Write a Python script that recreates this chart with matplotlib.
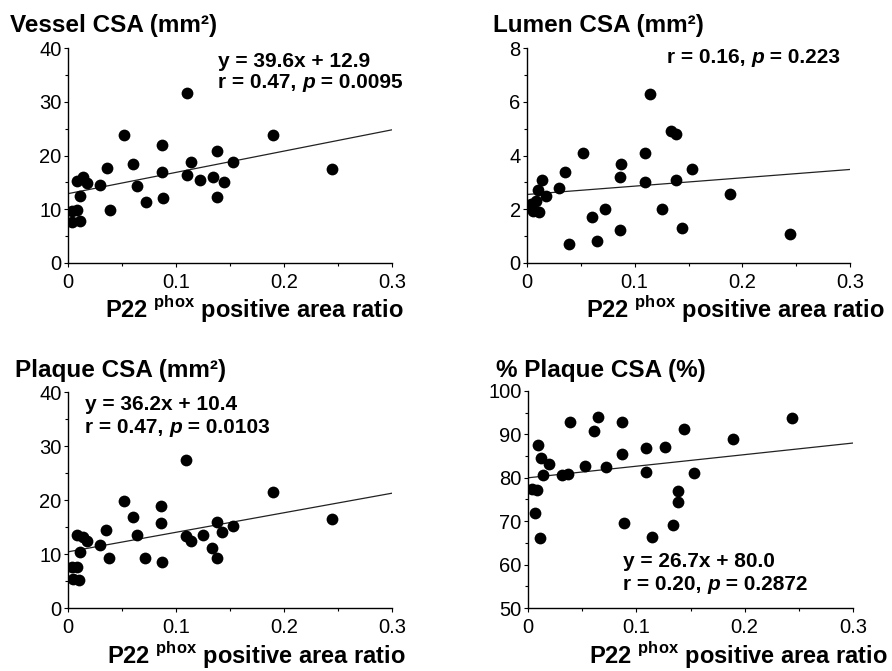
import numpy as np
import matplotlib
matplotlib.use('Agg')
import matplotlib.pyplot as plt
from matplotlib.ticker import MultipleLocator

# fonts: bold sans for titles / labels, narrow for ticks and stats
plt.rcParams['font.family'] = 'Liberation Sans'
plt.rcParams['mathtext.fontset'] = 'custom'
plt.rcParams['mathtext.rm'] = 'Liberation Sans:bold'
plt.rcParams['mathtext.bf'] = 'Liberation Sans:bold'
NARROW = ['Liberation Sans Narrow', 'Liberation Sans']

# ---- data ----
# Vessel CSA (mm2)
vessel_x = [0.004, 0.004, 0.008, 0.011, 0.011, 0.008, 0.014, 0.018, 0.030, 0.036,
            0.039, 0.052, 0.060, 0.064, 0.072, 0.087, 0.087, 0.088, 0.110, 0.110,
            0.114, 0.122, 0.134, 0.138, 0.138, 0.144, 0.153, 0.190, 0.244]
vessel_y = [7.6, 9.6, 9.8, 7.8, 12.4, 15.2, 16.0, 14.9, 14.5, 17.6,
            9.9, 23.9, 18.4, 14.3, 11.4, 22.0, 17.0, 12.1, 31.7, 16.3,
            18.8, 15.5, 16.0, 20.8, 12.2, 15.1, 18.8, 23.9, 17.4]

# Lumen CSA (mm2)
lumen_x = [0.004, 0.008, 0.006, 0.011, 0.010, 0.014, 0.018, 0.030, 0.035, 0.039,
           0.052, 0.060, 0.065, 0.072, 0.086, 0.087, 0.086, 0.110, 0.110, 0.114,
           0.125, 0.134, 0.138, 0.138, 0.144, 0.153, 0.189, 0.244, 0.003]
lumen_y = [2.2, 2.3, 1.95, 1.9, 2.7, 3.1, 2.5, 2.8, 3.4, 0.7,
           4.08, 1.7, 0.83, 2.0, 3.19, 3.7, 1.21, 4.08, 3.0, 6.27,
           2.0, 4.9, 4.8, 3.09, 1.29, 3.49, 2.57, 1.08, 2.1]

# Plaque CSA (mm2)
plaque_x = [0.004, 0.008, 0.005, 0.010, 0.008, 0.014, 0.018, 0.011, 0.030, 0.035,
            0.038, 0.052, 0.060, 0.064, 0.071, 0.086, 0.086, 0.087, 0.109, 0.109,
            0.114, 0.125, 0.133, 0.138, 0.138, 0.143, 0.153, 0.190, 0.244]
plaque_y = [7.6, 7.6, 5.4, 5.1, 13.5, 13.1, 12.5, 10.4, 11.7, 14.4,
            9.3, 19.9, 16.9, 13.6, 9.3, 18.9, 15.8, 8.5, 27.5, 13.3,
            12.4, 13.5, 11.1, 9.3, 16.0, 14.0, 15.2, 21.5, 16.5]

# % Plaque CSA (%)
pct_x = [0.004, 0.008, 0.006, 0.009, 0.011, 0.012, 0.014, 0.019, 0.031, 0.037,
         0.039, 0.053, 0.061, 0.065, 0.072, 0.087, 0.087, 0.089, 0.109, 0.109,
         0.114, 0.126, 0.134, 0.138, 0.138, 0.144, 0.153, 0.189, 0.244]
pct_y = [77.5, 77.2, 71.8, 87.5, 66.2, 84.6, 80.6, 83.2, 80.6, 80.9,
         92.8, 82.7, 90.8, 94.1, 82.4, 92.8, 85.4, 69.7, 86.9, 81.4,
         66.4, 87.1, 69.2, 76.9, 74.5, 91.2, 81.2, 88.9, 93.7]

# regression lines (slope, intercept)
vessel_fit = (39.6, 12.9)
lumen_fit = (3.1, 2.55)
plaque_fit = (36.2, 10.4)
pct_fit = (26.7, 80.0)

titles = ['Vessel CSA (mm\u00b2)', 'Lumen CSA (mm\u00b2)', 'Plaque CSA (mm\u00b2)', '% Plaque CSA (%)']
stats = [('y = 39.6x + 12.9', 'r = 0.47, ', ' = 0.0095'),
         (None, 'r = 0.16, ', ' = 0.223'),
         ('y = 36.2x + 10.4', 'r = 0.47, ', ' = 0.0103'),
         ('y = 26.7x + 80.0', 'r = 0.20, ', ' = 0.2872')]
xlabel = r'P22 $^{\rm phox}$ positive area ratio'

W, H = 892, 671
fig = plt.figure(figsize=(W / 100, H / 100), dpi=100)


def px_axes(left, top, right, bottom):
    return fig.add_axes([left / W, 1 - bottom / H, (right - left) / W, (bottom - top) / H])


panels = [
    dict(box=(68, 48, 392, 263), x=vessel_x, y=vessel_y, fit=vessel_fit, ylim=(0, 40), major=10, minor=5,
         title=(10, 32), stat=(218, 67, 88), xl=(105, 318)),
    dict(box=(527, 48, 850, 263), x=lumen_x, y=lumen_y, fit=lumen_fit, ylim=(0, 8), major=2, minor=1,
         title=(493, 32), stat=(667, None, 63), xl=(586, 318)),
    dict(box=(68, 392, 392, 608), x=plaque_x, y=plaque_y, fit=plaque_fit, ylim=(0, 40), major=10, minor=5,
         title=(15, 377), stat=(85, 410, 433), xl=(107, 664)),
    dict(box=(528, 391, 853, 608), x=pct_x, y=pct_y, fit=pct_fit, ylim=(50, 100), major=10, minor=5,
         title=(496, 377), stat=(623, 567, 590), xl=(589, 664)),
]

for i, p in enumerate(panels):
    ax = px_axes(*p['box'])
    ax.scatter(p['x'], p['y'], s=72, color='black', zorder=3, linewidths=0)
    xs = np.array([0, 0.3])
    ax.plot(xs, p['fit'][0] * xs + p['fit'][1], color='#222222', lw=0.9, zorder=2)

    ax.set_xlim(0, 0.3)
    ax.set_ylim(*p['ylim'])
    ax.xaxis.set_major_locator(MultipleLocator(0.1))
    ax.xaxis.set_minor_locator(MultipleLocator(0.05))
    ax.yaxis.set_major_locator(MultipleLocator(p['major']))
    ax.yaxis.set_minor_locator(MultipleLocator(p['minor']))
    ax.set_xticklabels(['0' if t == 0 else f'{t:.1f}' for t in ax.get_xticks()])
    for s in ['top', 'right']:
        ax.spines[s].set_visible(False)
    for s in ['left', 'bottom']:
        ax.spines[s].set_linewidth(1.0)
    ax.tick_params(which='major', direction='out', length=3, width=0.8, labelsize=14.5, pad=1.5)
    ax.tick_params(which='minor', direction='out', length=2, width=0.8)
    ax.tick_params(axis='x', which='major', pad=4)
    for lab in ax.get_xticklabels() + ax.get_yticklabels():
        lab.set_family(NARROW)

    # title
    tx, ty = p['title']
    fig.text(tx / W, 1 - ty / H, titles[i], fontsize=17.5, fontweight='bold', va='baseline', ha='left')

    # stats, with an italic p
    sx, sy1, sy2 = p['stat']
    eq, rtxt, ptxt = stats[i]
    kw = dict(fontsize=15, fontweight='bold', family=NARROW)
    if eq is not None:
        fig.text(sx / W, 1 - sy1 / H, eq, va='baseline', ha='left', **kw)
    t1 = fig.text(sx / W, 1 - sy2 / H, rtxt, va='baseline', ha='left', **kw)
    t2 = ax.annotate('p', xy=(1, 0), xycoords=t1, va='bottom', ha='left', style='italic', **kw)
    ax.annotate(ptxt, xy=(1, 0), xycoords=t2, va='bottom', ha='left', **kw)

    # x label
    lx, ly = p['xl']
    fig.text(lx / W, 1 - ly / H, xlabel, fontsize=17, fontweight='bold', va='baseline', ha='left')

fig.savefig('out.png', dpi=100)
